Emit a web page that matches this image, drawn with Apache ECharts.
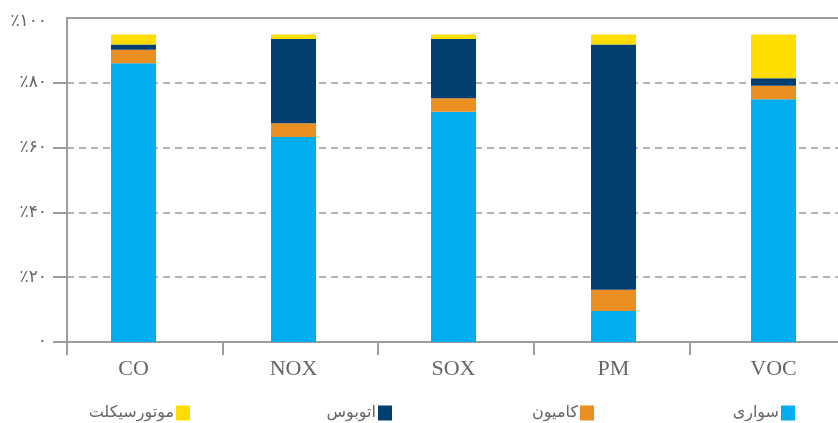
<!DOCTYPE html>
<html>
<head>
<meta charset="utf-8">
<script src="https://cdn.jsdelivr.net/npm/echarts@6/dist/echarts.min.js"></script>
<style>
html,body{margin:0;padding:0;background:#fff;}
#chart{width:838px;height:423px;}
</style>
</head>
<body>
<div id="chart"></div>
<script>
// Data
var categories = ['CO', 'NOX', 'SOX', 'PM', 'VOC'];
var seriesNames = ['سواری', 'کامیون', 'اتوبوس', 'موتورسیکلت'];
var carValues = [86.0, 63.3, 71.1, 9.6, 74.9];
var truckValues = [4.2, 4.2, 4.1, 6.5, 4.2];
var busValues = [1.6, 26.0, 18.3, 75.7, 2.3];
var motorcycleValues = [3.1, 1.4, 1.4, 3.1, 13.5];
var yTickValues = [0, 20, 40, 60, 80, 100];
var yTickLabels = ['۰', '٪۲۰', '٪۴۰', '٪۶۰', '٪۸۰', '٪۱۰۰'];

var colors = ['#00AEEF', '#EC8F23', '#003F6F', '#FFDD00'];
var axisGray = '#9d9d9d';
var textGray = '#666666';

var chart = echarts.init(document.getElementById('chart'), null, {renderer: 'canvas'});

var valuesList = [carValues, truckValues, busValues, motorcycleValues];
var series = seriesNames.map(function (name, i) {
  return {
    name: name,
    type: 'bar',
    stack: 'total',
    xAxisIndex: 2,
    yAxisIndex: 1,
    barWidth: 45,
    itemStyle: {color: colors[i]},
    data: valuesList[i]
  };
});

var legendRights = [43, 244, 446, 648];
var legends = seriesNames.map(function (name, i) {
  return {
    data: [name],
    right: legendRights[i],
    top: 405,
    padding: 0,
    align: 'right',
    itemWidth: 14,
    itemHeight: 15,
    itemGap: 0,
    icon: 'rect',
    textStyle: {color: textGray, fontSize: 16, fontFamily: 'DejaVu Sans', padding: [0, -3, 0, 0]},
    selectedMode: false
  };
});

var option = {
  animation: false,
  color: colors,
  legend: legends,
  grid: [
    {left: 67, top: 18, width: 778, height: 324, outerBoundsMode: 'none', containLabel: false},
    {left: 53.5, top: 18, width: 800, height: 324, outerBoundsMode: 'none', containLabel: false}
  ],
  xAxis: [
    {
      gridIndex: 0, type: 'category', data: categories, position: 'bottom',
      axisLine: {show: true, lineStyle: {color: axisGray, width: 2}},
      axisTick: {show: true, length: 13, lineStyle: {color: axisGray, width: 2}},
      axisLabel: {show: false},
      splitLine: {show: false}
    },
    {
      gridIndex: 0, type: 'category', data: categories, position: 'top',
      axisLine: {show: true, lineStyle: {color: axisGray, width: 2}},
      axisTick: {show: false},
      axisLabel: {show: false},
      splitLine: {show: false}
    },
    {
      gridIndex: 1, type: 'category', data: categories, position: 'bottom',
      axisLine: {show: false},
      axisTick: {show: false},
      axisLabel: {show: true, color: textGray, fontSize: 22, fontFamily: 'Liberation Serif', margin: 16},
      splitLine: {show: false}
    }
  ],
  yAxis: [
    {
      gridIndex: 0, type: 'value', min: 0, max: 100, interval: 20,
      axisLine: {show: true, lineStyle: {color: axisGray, width: 2}},
      axisTick: {show: true, length: 14, lineStyle: {color: axisGray, width: 2}, customValues: [0, 20, 40, 60, 80]},
      axisLabel: {
        show: true, color: textGray, fontSize: 17, fontFamily: 'DejaVu Sans', margin: 20,
        formatter: function (v) {
          var idx = yTickValues.indexOf(v);
          if (idx < 0) return '';
          return v === 100 ? '{top|' + yTickLabels[idx] + '}' : yTickLabels[idx];
        },
        rich: {
          top: {color: textGray, fontSize: 17, fontFamily: 'DejaVu Sans', padding: [8, 0, 0, 0]}
        }
      },
      splitLine: {show: true, lineStyle: {color: '#b3b3b3', width: 2, type: [7, 5]}}
    },
    {
      gridIndex: 1, type: 'value', min: 0, max: 100, show: false,
      splitLine: {show: false}
    }
  ],
  series: series
};
chart.setOption(option);
</script>
</body>
</html>
